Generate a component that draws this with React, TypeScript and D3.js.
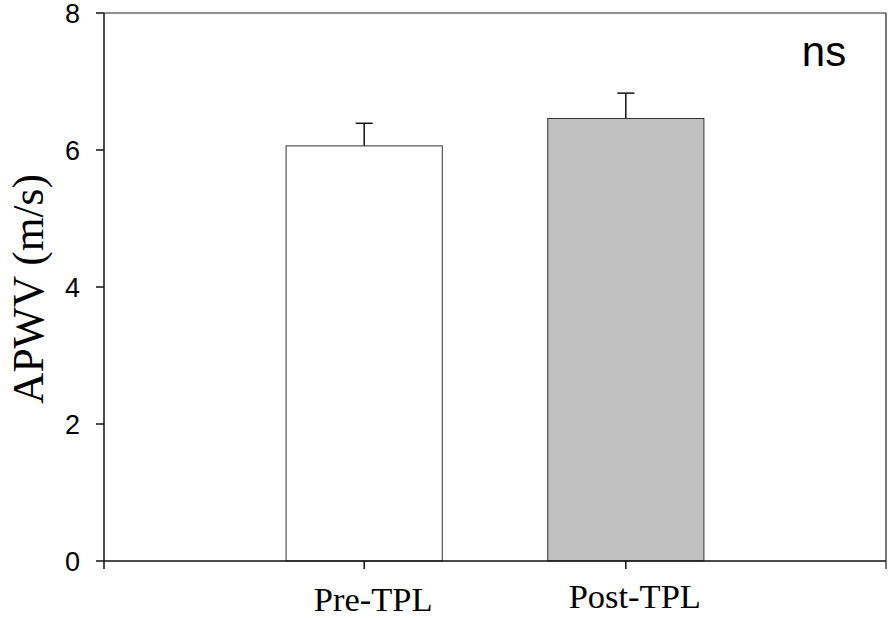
import { scaleBand, scaleLinear } from 'd3';

const categories = ['Pre-TPL', 'Post-TPL'];
const means = [6.06, 6.46];
const errors = [0.33, 0.37];
const fills = ['#ffffff', '#c0c0c0'];
const yTicks = [0, 2, 4, 6, 8];

const W = 889;
const H = 618;
const margin = { top: 13, right: 3, bottom: 57, left: 104 };

export default function App() {
  const x = scaleBand()
    .domain(categories)
    .range([margin.left, W - margin.right])
    .paddingInner(0.403)
    .paddingOuter(0.696);

  const y = scaleLinear().domain([0, 8]).range([H - margin.bottom, margin.top]);

  const left = margin.left;
  const right = W - margin.right;
  const bottom = y(0);
  const top = y(8);
  const bw = x.bandwidth();

  return (
    <svg
      width={W}
      height={H}
      style={{ position: 'absolute', left: 0, top: 0, background: '#fff' }}
    >
      {/* frame top / right */}
      <line x1={left} x2={right} y1={top} y2={top} stroke="#222" strokeWidth={1.2} />
      <line x1={right} x2={right} y1={top} y2={bottom + 8} stroke="#222" strokeWidth={1.2} />

      {/* bars */}
      {categories.map((c, i) => {
        const cx = x(c)! + bw / 2;
        return (
          <g key={c}>
            <line
              x1={cx}
              x2={cx}
              y1={y(means[i])}
              y2={y(means[i] + errors[i])}
              stroke="#111"
              strokeWidth={1.5}
            />
            <line
              x1={cx - 8.5}
              x2={cx + 8.5}
              y1={y(means[i] + errors[i])}
              y2={y(means[i] + errors[i])}
              stroke="#111"
              strokeWidth={1.5}
            />
            <rect
              x={x(c)}
              y={y(means[i])}
              width={bw}
              height={bottom - y(means[i])}
              fill={fills[i]}
              stroke="#333"
              strokeWidth={1}
            />
          </g>
        );
      })}

      {/* y axis */}
      <line x1={left} x2={left} y1={top} y2={bottom + 8} stroke="#111" strokeWidth={1.5} />
      {yTicks.map(t => (
        <g key={t}>
          <line x1={left - 8} x2={left} y1={y(t)} y2={y(t)} stroke="#111" strokeWidth={1.5} />
          <text
            x={left - 24}
            y={y(t)}
            dy="0.36em"
            textAnchor="end"
            fontFamily="Liberation Sans, Arial, sans-serif"
            fontSize={27}
          >
            {t}
          </text>
        </g>
      ))}

      {/* x axis */}
      <line x1={left} x2={right} y1={bottom} y2={bottom} stroke="#111" strokeWidth={1.5} />
      {categories.map((c, i) => {
        const cx = x(c)! + bw / 2;
        return (
          <g key={c}>
            <line x1={cx} x2={cx} y1={bottom} y2={bottom + 8} stroke="#111" strokeWidth={1.5} />
            <text
              x={cx + 9}
              y={i === 0 ? 611 : 608}
              textAnchor="middle"
              fontFamily="Liberation Serif, Times New Roman, serif"
              fontSize={34.5}
            >
              {c}
            </text>
          </g>
        );
      })}

      {/* axis title */}
      <text
        transform={`translate(43,289) rotate(-90)`}
        textAnchor="middle"
        fontFamily="Liberation Serif, Times New Roman, serif"
        fontSize={43.5}
      >
        APWV (m/s)
      </text>

      <text
        x={824}
        y={66}
        textAnchor="middle"
        fontFamily="Liberation Sans, Arial, sans-serif"
        fontSize={42}
      >
        ns
      </text>
    </svg>
  );
}
